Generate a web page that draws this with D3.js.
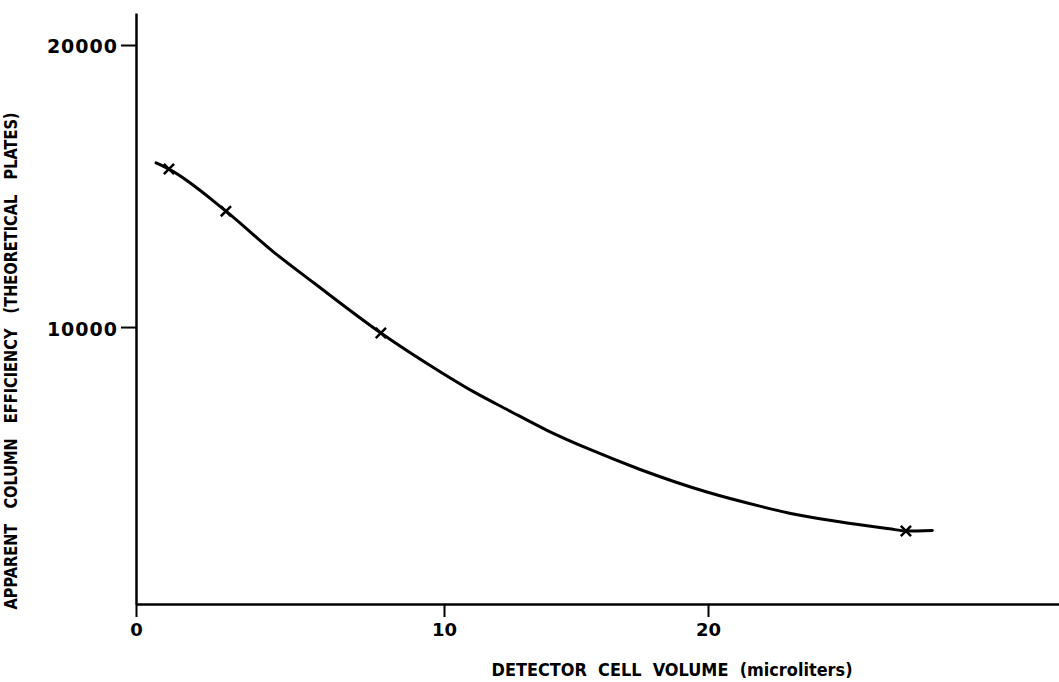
<!DOCTYPE html>
<html>
<head>
<meta charset="utf-8">
<script src="https://cdn.jsdelivr.net/npm/d3@7/dist/d3.min.js"></script>
<style>
  html, body { margin: 0; padding: 0; background: #fff; }
  svg { display: block; }
  text { font-family: "DejaVu Sans", sans-serif; font-weight: bold; fill: #000; }
</style>
</head>
<body>
<svg id="chart" width="1059" height="682"></svg>
<script>
// Curve: cell volume (microliters) vs apparent plates
const curveVolume = [0.65, 1.07, 2.92, 4.48, 5.78, 7.95, 9.9, 11.13, 12.42, 13.92, 15.55, 17.43, 19.96, 21.96, 23.09, 24.98, 26.87, 27.5, 28.5];
const curvePlates = [15820, 15600, 14110, 12650, 11560, 9790, 8400, 7700, 7060, 6330, 5650, 4950, 4150, 3650, 3400, 3100, 2850, 2770, 2790];
// Measured points (x markers)
const pointVolume = [1.07, 2.92, 7.95, 27.5];
const pointPlates = [15600, 14110, 9790, 2770];
// Axis ticks
const xTicks = [0, 10, 20];
const yTicks = [10000, 20000];
const xTitle = "DETECTOR  CELL  VOLUME  (microliters)";
const yTitle = "APPARENT   COLUMN   EFFICIENCY   (THEORETICAL   PLATES)";

const svg = d3.select("#chart");

// Hand-drawn axis in the original is not uniform, so a piecewise linear scale follows the drawn ticks
const x = d3.scaleLinear().domain([0, 10, 20, 33.3]).range([136, 444, 708, 1059]);
const y = d3.scaleLinear().domain([180, 21135]).range([604, 13]);

// Y axis
const yAxis = svg.append("g")
  .attr("transform", `translate(${x(0)},0)`)
  .call(d3.axisLeft(y).tickValues(yTicks).tickSize(15).tickSizeOuter(0).tickPadding(3).tickFormat(d3.format("d")));
yAxis.select(".domain").attr("stroke", "#000").attr("stroke-width", 2.5);
yAxis.selectAll(".tick line").attr("stroke", "#000").attr("stroke-width", 2);
yAxis.selectAll(".tick text")
  .style("font-size", "19px").style("letter-spacing", "1px").attr("dy", "0.42em");

// X axis
const xAxis = svg.append("g")
  .attr("transform", `translate(0,${y(180)})`)
  .call(d3.axisBottom(x).tickValues(xTicks).tickSize(13).tickSizeOuter(0).tickPadding(6).tickFormat(d3.format("d")));
xAxis.select(".domain").attr("stroke", "#000").attr("stroke-width", 2.5);
xAxis.selectAll(".tick line").attr("stroke", "#000").attr("stroke-width", 2);
xAxis.selectAll(".tick text").style("font-size", "18px");

// Curve
const curveData = curveVolume.map((v, i) => [v, curvePlates[i]]);
const line = d3.line().x(d => x(d[0])).y(d => y(d[1])).curve(d3.curveMonotoneX);
svg.append("path")
  .datum(curveData)
  .attr("d", line)
  .attr("fill", "none")
  .attr("stroke", "#000")
  .attr("stroke-width", 3)
  .attr("stroke-linecap", "round");

// Markers
const pts = pointVolume.map((v, i) => [v, pointPlates[i]]);
svg.append("g").selectAll("path")
  .data(pts)
  .join("path")
  .attr("transform", d => `translate(${x(d[0])},${y(d[1])})`)
  .attr("d", d3.symbol().type(d3.symbolTimes).size(70))
  .attr("fill", "none")
  .attr("stroke", "#000")
  .attr("stroke-width", 2.5);

// Titles
svg.append("text")
  .attr("x", 672).attr("y", 676)
  .attr("text-anchor", "middle")
  .attr("textLength", 361).attr("lengthAdjust", "spacingAndGlyphs")
  .style("font-size", "17px").style("white-space", "pre")
  .text(xTitle);

svg.append("text")
  .attr("transform", "translate(17,361) rotate(-90)")
  .attr("text-anchor", "middle")
  .attr("textLength", 497).attr("lengthAdjust", "spacingAndGlyphs")
  .style("font-size", "17px").style("white-space", "pre")
  .text(yTitle);
</script>
</body>
</html>
